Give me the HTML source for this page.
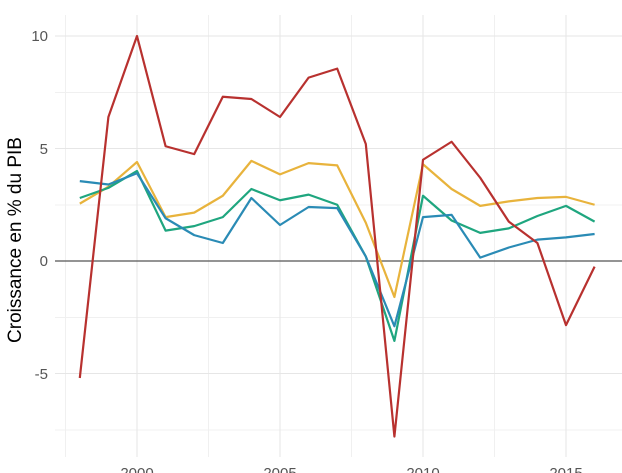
<!DOCTYPE html>
<html><head><meta charset="utf-8"><style>
html,body{margin:0;padding:0;background:#fff;}
svg{display:block;font-family:"Liberation Sans",sans-serif;}
</style></head><body>
<svg width="622" height="473" viewBox="0 0 622 473" xmlns="http://www.w3.org/2000/svg">
<rect width="622" height="473" fill="#fff"/>
<text x="290" y="-4" font-size="16" fill="#bbb" text-anchor="middle">Croissance du PIB en volume</text>
<g stroke="#f0f0f0" stroke-width="1">
<line x1="55" x2="622" y1="92.5" y2="92.5"/><line x1="55" x2="622" y1="205" y2="205"/>
<line x1="55" x2="622" y1="317.5" y2="317.5"/><line x1="55" x2="622" y1="430" y2="430"/>
<line x1="65.5" x2="65.5" y1="15" y2="457"/><line x1="208.5" x2="208.5" y1="15" y2="457"/>
<line x1="351.5" x2="351.5" y1="15" y2="457"/><line x1="494.5" x2="494.5" y1="15" y2="457"/>
</g>
<g stroke="#e6e6e6" stroke-width="1">
<line x1="55" x2="622" y1="36" y2="36"/><line x1="55" x2="622" y1="148.5" y2="148.5"/>
<line x1="55" x2="622" y1="373.5" y2="373.5"/>
<line x1="137" x2="137" y1="15" y2="457"/><line x1="280" x2="280" y1="15" y2="457"/>
<line x1="423" x2="423" y1="15" y2="457"/><line x1="566" x2="566" y1="15" y2="457"/>
</g>
<line x1="55" x2="622" y1="261" y2="261" stroke="#555" stroke-width="1.3"/>
<g font-size="15" fill="#555" text-anchor="end">
<text x="48" y="41">10</text><text x="48" y="154">5</text><text x="48" y="266">0</text><text x="48" y="379">-5</text>
</g>
<g font-size="15" fill="#555" text-anchor="middle">
<text x="137" y="478">2000</text><text x="280" y="478">2005</text><text x="423" y="478">2010</text><text x="566" y="478">2015</text>
</g>
<text transform="translate(21,240) rotate(-90)" font-size="19" fill="#000" text-anchor="middle">Croissance en % du PIB</text>
<g transform="translate(137,261) scale(28.6,-22.5)" fill="none" stroke-width="2.2" stroke-linejoin="round">
<polyline vector-effect="non-scaling-stroke" stroke="#e8b33c" points="-2,2.55 -1,3.3 0,4.4 1,1.95 2,2.15 3,2.9 4,4.45 5,3.85 6,4.35 7,4.25 8,1.7 9,-1.6 10,4.3 11,3.2 12,2.45 13,2.65 14,2.8 15,2.85 16,2.5"/>
<polyline vector-effect="non-scaling-stroke" stroke="#1fa67f" points="-2,2.8 -1,3.25 0,4.0 1,1.35 2,1.55 3,1.95 4,3.2 5,2.7 6,2.95 7,2.5 8,0.2 9,-3.55 10,2.9 11,1.8 12,1.25 13,1.45 14,2.0 15,2.45 16,1.75"/>
<polyline vector-effect="non-scaling-stroke" stroke="#2a8bb5" points="-2,3.55 -1,3.4 0,3.9 1,1.9 2,1.15 3,0.8 4,2.8 5,1.6 6,2.4 7,2.35 8,0.2 9,-2.9 10,1.95 11,2.05 12,0.15 13,0.6 14,0.95 15,1.05 16,1.2"/>
<polyline vector-effect="non-scaling-stroke" stroke="#b8312f" points="-2,-5.2 -1,6.4 0,10.0 1,5.1 2,4.75 3,7.3 4,7.2 5,6.4 6,8.15 7,8.55 8,5.2 9,-7.8 10,4.5 11,5.3 12,3.7 13,1.75 14,0.8 15,-2.85 16,-0.25"/>
</g>
</svg>
</body></html>
